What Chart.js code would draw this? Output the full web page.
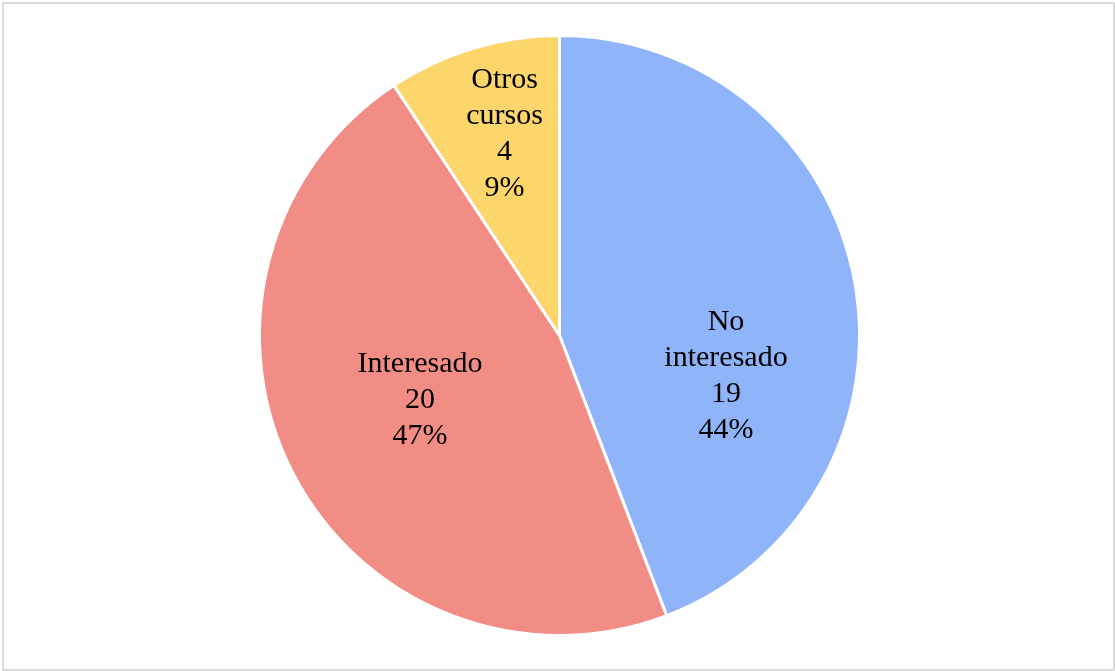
<!DOCTYPE html>
<html>
<head>
<meta charset="utf-8">
<script src="https://cdn.jsdelivr.net/npm/chart.js@4"></script>
<style>
  html, body { margin: 0; padding: 0; background: #fff; }
  #frame {
    position: absolute; left: 2px; top: 2px;
    width: 1109px; height: 665px;
    border: 2px solid #d9d9d9;
  }
  #wrap { position: absolute; left: 0; top: 0; width: 1115px; height: 671px; }
</style>
</head>
<body>
<div id="frame"></div>
<div id="wrap"><canvas id="pie"></canvas></div>
<script>
const categories = ['No interesado', 'Interesado', 'Otros cursos'];
const labelLines = [['No', 'interesado'], ['Interesado'], ['Otros', 'cursos']];
const counts = [19, 20, 4];
const colors = ['#8fb4f9', '#f28d85', '#fcd56b'];

// where each label sits, as a fraction of the radius from the centre
const labelSpots = [[0.555, 0.134], [-0.465, 0.215], [-0.183, -0.67]];

const total = counts.reduce((a, b) => a + b, 0);

const sliceLabels = {
    id: 'sliceLabels',
    afterDatasetsDraw(chart) {
        const ctx = chart.ctx;
        const arcs = chart.getDatasetMeta(0).data;
        ctx.save();
        ctx.font = '30px "Liberation Serif", "Times New Roman", serif';
        ctx.fillStyle = '#000';
        ctx.textAlign = 'center';
        ctx.textBaseline = 'middle';
        arcs.forEach((arc, i) => {
            const pct = Math.round(counts[i] / total * 100) + '%';
            const lines = labelLines[i].concat([String(counts[i]), pct]);
            const x = arc.x + labelSpots[i][0] * arc.outerRadius;
            const y = arc.y + labelSpots[i][1] * arc.outerRadius;
            const step = 36;
            const top = y - (lines.length - 1) * step / 2;
            lines.forEach((t, k) => ctx.fillText(t, x, top + k * step));
        });
        ctx.restore();
    }
};

new Chart(document.getElementById('pie'), {
    type: 'pie',
    data: {
        labels: categories,
        datasets: [{
            data: counts,
            backgroundColor: colors,
            borderColor: '#ffffff',
            borderWidth: 3
        }]
    },
    options: {
        responsive: true,
        maintainAspectRatio: false,
        animation: false,
        layout: { padding: { top: 34, bottom: 34, left: 4, right: 0 } },
        plugins: {
            legend: { display: false },
            tooltip: { enabled: false }
        }
    },
    plugins: [sliceLabels]
});
</script>
</body>
</html>
